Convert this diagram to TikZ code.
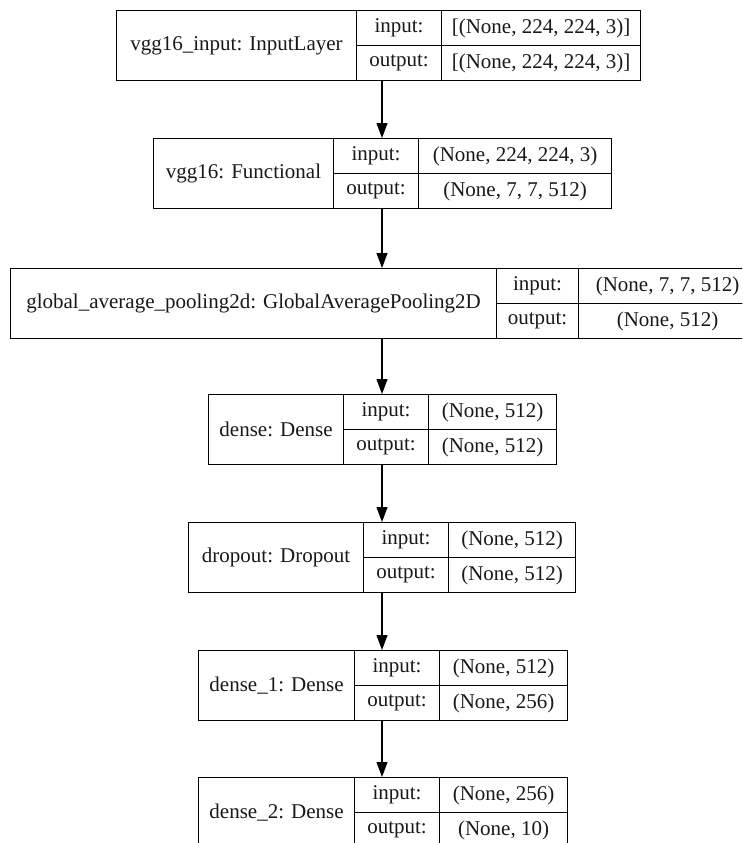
\documentclass[tikz,border=0pt]{standalone}
\usepackage{fontspec}
\setmainfont{Liberation Serif}
\usetikzlibrary{arrows.meta}

% one layer record: label cell on the left, input/output keys, then the shapes
% #1 name, #2 top, #3..#6 x of the vertical rules, #7 label, #8 input shape, #9 output shape
\newcommand{\layerrecord}[9]{%
  \pgfmathsetmacro{\wl}{#4-#3}%
  \pgfmathsetmacro{\wk}{#5-#4}%
  \pgfmathsetmacro{\wv}{#6-#5}%
  \node[cellbox, minimum width=\wl pt, minimum height=70pt] (#1-l) at (#3,#2) {#7};
  \node[cellbox, minimum width=\wk pt] (#1-ik) at (#4,#2) {input:};
  \node[cellbox, minimum width=\wk pt] (#1-ok) at (#4,#2+35) {output:};
  \node[cellbox, minimum width=\wv pt] (#1-iv) at (#5,#2) {#8};
  \node[cellbox, minimum width=\wv pt] (#1-ov) at (#5,#2+35) {#9};
}

\tikzset{
  cellbox/.style={draw=black, line width=1.1pt, rectangle, anchor=north west,
    inner sep=0pt, minimum height=35pt, align=center,
    font=\fontsize{21}{23}\selectfont, text=black!90},
  flow/.style={draw=black, line width=1.1pt,
    -{Triangle[width=11pt,length=15pt]}},
}

\begin{document}
\begin{tikzpicture}[x=1pt,y=-1pt]
  \useasboundingbox[fill=white] (0,0) rectangle (742,843);
  \clip (0,0) rectangle (742,843);
  \coordinate (ax) at (382,0);

  \layerrecord{L1}{10}{116}{356}{441}{640}{vgg16\_input: InputLayer}{[(None, 224, 224, 3)]}{[(None, 224, 224, 3)]}
  \layerrecord{L2}{138}{153}{333}{418}{611}{vgg16: Functional}{(None, 224, 224, 3)}{(None, 7, 7, 512)}
  \layerrecord{L3}{268}{10}{496}{578}{756}{global\_average\_pooling2d: GlobalAveragePooling2D}{(None, 7, 7, 512)}{(None, 512)}
  \layerrecord{L4}{394}{208}{343}{428}{556}{dense: Dense}{(None, 512)}{(None, 512)}
  \layerrecord{L5}{522}{188}{363}{448}{575}{dropout: Dropout}{(None, 512)}{(None, 512)}
  \layerrecord{L6}{650}{198}{354}{439}{567}{dense\_1: Dense}{(None, 512)}{(None, 256)}
  \layerrecord{L7}{777}{198}{354}{439}{567}{dense\_2: Dense}{(None, 256)}{(None, 10)}

  \draw[flow] (L1-l.south -| ax) -- (L2-l.north -| ax);
  \draw[flow] (L2-l.south -| ax) -- (L3-l.north -| ax);
  \draw[flow] (L3-l.south -| ax) -- (L4-l.north -| ax);
  \draw[flow] (L4-l.south -| ax) -- (L5-l.north -| ax);
  \draw[flow] (L5-l.south -| ax) -- (L6-l.north -| ax);
  \draw[flow] (L6-l.south -| ax) -- (L7-l.north -| ax);
\end{tikzpicture}
\end{document}
